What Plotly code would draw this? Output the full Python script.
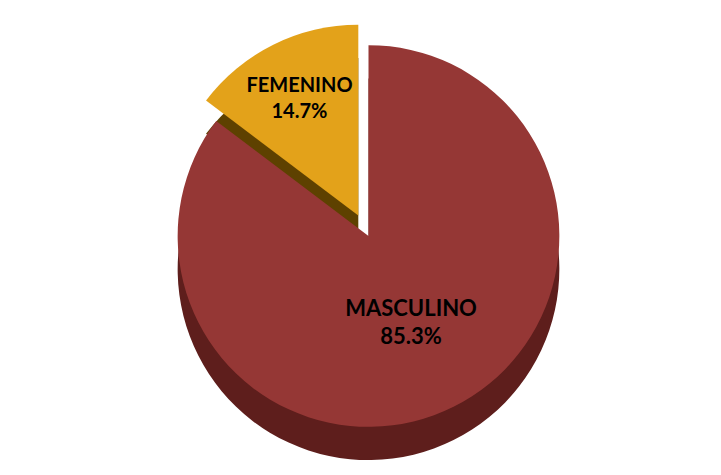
import plotly.graph_objects as go

labels = ["MASCULINO", "FEMENINO"]
values = [85.3, 14.7]
top_colors = ["#953735", "#E3A21A"]
side_colors = ["#5E1E1C", "#5E4100"]
pulls = [0, 0.12]

fig = go.Figure()

# depth layer (darker, shifted down) for a 3D-like look
fig.add_trace(go.Pie(
    labels=labels, values=values, sort=False, direction="clockwise", rotation=0,
    pull=pulls, marker=dict(colors=side_colors, line=dict(width=0)),
    textinfo="none", hoverinfo="skip", showlegend=False,
    domain=dict(x=[0, 1], y=[0.0, 0.9]),
))

fig.add_trace(go.Pie(
    labels=labels, values=values, sort=False, direction="clockwise", rotation=0,
    pull=pulls, marker=dict(colors=top_colors, line=dict(width=0)),
    texttemplate="<b>%{label}<br>%{percent:.1%}</b>", textposition="inside",
    insidetextorientation="horizontal",
    textfont=dict(family="Lato, Open Sans, sans-serif", size=22, color="#000000"),
    showlegend=False,
    domain=dict(x=[0, 1], y=[0.07, 0.97]),
))

fig.update_layout(
    width=721, height=475,
    margin=dict(l=0, r=0, t=0, b=0),
    paper_bgcolor="white", plot_bgcolor="white",
)

fig.write_html("out.html")
